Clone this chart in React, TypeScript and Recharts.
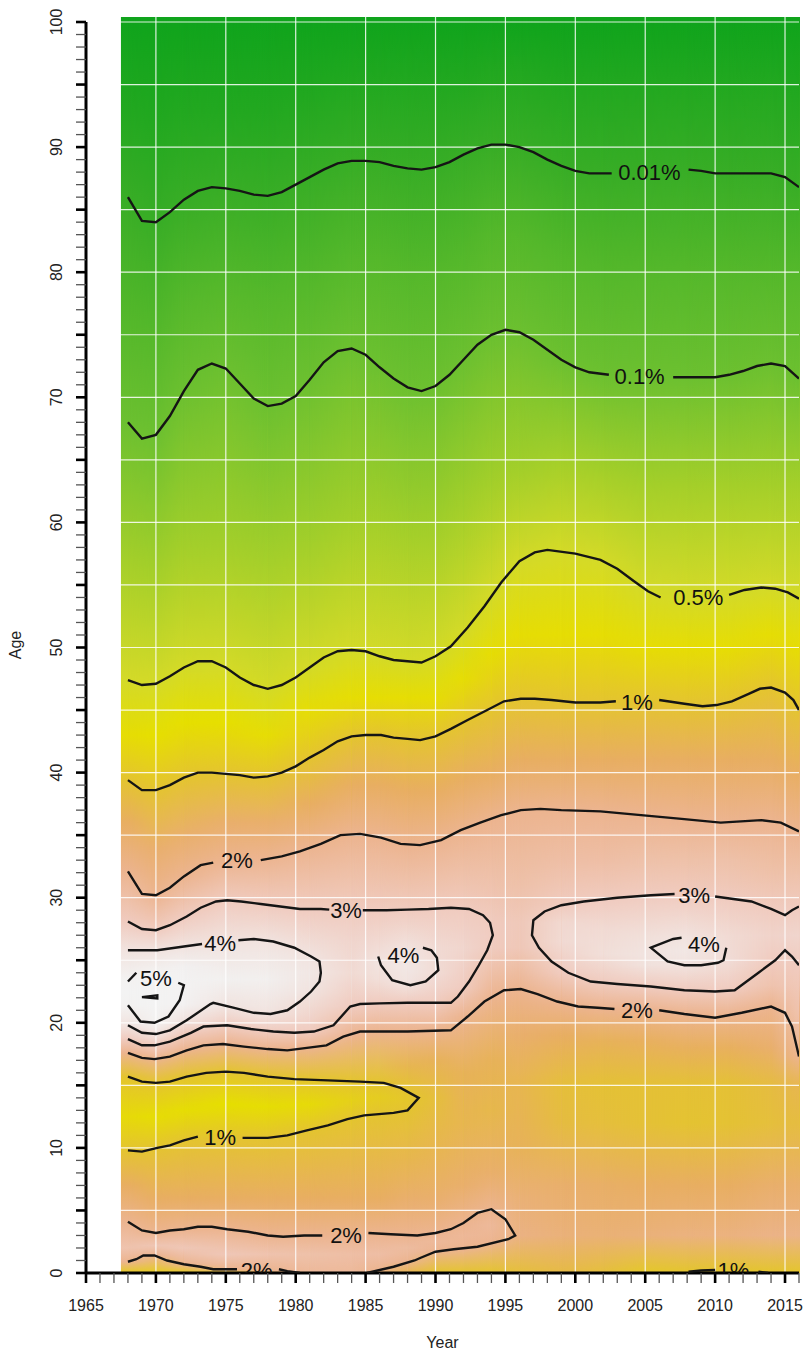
import React from "react";
import {
  ScatterChart,
  Scatter,
  XAxis,
  YAxis,
  ReferenceArea,
  ReferenceLine,
} from "recharts";

const FONT = '"Liberation Sans", Arial, Helvetica, sans-serif';
const AGE_TOP = 100.4;

// axis ticks
const xTicks = Array.from({ length: 52 }, (_, i) => 1965 + i);
const yTicks = Array.from({ length: 101 }, (_, i) => i);
const gridYears = [1970, 1975, 1980, 1985, 1990, 1995, 2000, 2005, 2010, 2015];
const gridAges = [5, 10, 15, 20, 25, 30, 35, 40, 45, 50, 55, 60, 65, 70, 75, 80, 85, 90, 95, 100];

// rate (%) -> colour, terrain-like palette
const colourStops: [number, string][] = [
  [0.0007, "#10a41c"],
  [0.003, "#22a820"],
  [0.01, "#38ad26"],
  [0.035, "#52b72a"],
  [0.1, "#6cc030"],
  [0.25, "#a4cf2a"],
  [0.5, "#d4da28"],
  [0.7, "#e6df00"],
  [1.0, "#e4c430"],
  [1.5, "#e8ae62"],
  [2.0, "#ecb48f"],
  [3.0, "#f0cbbf"],
  [4.0, "#f1e3df"],
  [4.6, "#f2efee"],
  [5.2, "#f3f3f3"],
];

// vertical profiles of the rate surface: [age, rate %], one per sampled year
const profileYears = [1968, 1970, 1972, 1975, 1978, 1981, 1984, 1986, 1988, 1990, 1992, 1994, 1996, 1999, 2002, 2005, 2008, 2011, 2014, 2016];
const profiles: [number, number][][] = [
  [[0,0.9],[0.9,2],[2,2.6],[4.1,2],[7,1.5],[9.8,1],[12.5,0.75],[15.7,1],[17.6,2],[18.7,3],[19.8,4],[21.4,5],[22.5,5.6],[23.5,5],[25.8,4],[28.1,3],[32.1,2],[36,1.5],[39.4,1],[43,0.72],[47.4,0.5],[57,0.25],[68,0.1],[77,0.035],[86,0.01],[93,0.003],[100,0.0007]],
  [[0,0.9],[1.4,2],[2.2,2.7],[3.2,2],[6,1.5],[10,1],[12.5,0.72],[15.2,1],[17.1,2],[18.2,3],[19.1,4],[20,5],[22,5.8],[24,5],[25.8,4],[27.4,3],[30.2,2],[34,1.6],[38.6,1],[43,0.7],[47.1,0.5],[56,0.25],[67,0.1],[75,0.04],[84,0.01],[92,0.003],[100,0.0007]],
  [[0,0.9],[0.7,2],[2,2.8],[3.5,2],[6,1.5],[10.6,1],[13,0.72],[15.7,1],[17.8,2],[19.2,3],[20.2,4],[21.5,4.9],[23,5.05],[24.5,4.8],[26.1,4],[28.5,3],[31.7,2],[35,1.6],[39.6,1],[44,0.7],[48.4,0.5],[58,0.25],[70.5,0.1],[78,0.04],[85.8,0.01],[93,0.003],[100,0.0007]],
  [[0,0.95],[0.3,2],[1.5,2.8],[3.5,2],[6,1.5],[10.8,1],[13.5,0.7],[16.1,1],[18.3,2],[19.8,3],[21.3,4],[23.5,4.7],[26.4,4],[29.8,3],[33,2],[36,1.6],[39.9,1],[44,0.7],[48.4,0.5],[58,0.25],[72.3,0.1],[79,0.04],[86.7,0.01],[93,0.003],[100,0.0007]],
  [[0,1.3],[0.2,2],[1.5,2.6],[3,2],[6,1.5],[10.8,1],[13.3,0.72],[15.7,1],[17.9,2],[19.3,3],[20.7,4],[23.5,4.6],[26.5,4],[29.4,3],[33.2,2],[36,1.6],[39.7,1],[43,0.72],[46.7,0.5],[57,0.25],[69.3,0.1],[78,0.04],[86.1,0.01],[93,0.003],[100,0.0007]],
  [[0,2.2],[1.5,2.5],[3,2],[6,1.5],[11.4,1],[13.5,0.75],[15.5,1],[18,2],[19.3,3],[22.5,4],[24,4.2],[25.3,4],[29.1,3],[34.1,2],[37.5,1.5],[41.2,1],[45,0.72],[48.4,0.5],[58,0.25],[71.4,0.1],[79,0.04],[87.6,0.01],[94,0.003],[100,0.0007]],
  [[0,2.2],[1.5,2.4],[3,2],[6,1.5],[12.3,1],[13.8,0.85],[15.3,1],[18.9,2],[21.3,3],[24,3.6],[26.5,3.4],[29,3],[35.1,2],[39,1.5],[42.9,1],[46,0.72],[49.8,0.5],[60,0.25],[73.9,0.1],[81,0.04],[88.9,0.01],[95,0.003],[100,0.0007]],
  [[0,1.6],[0.25,2],[1.5,2.4],[3.1,2],[6,1.5],[12.8,1],[14,0.9],[15.2,1],[19.3,2],[21.6,3],[23.5,3.8],[24.8,4.05],[26,3.7],[29,3],[34.8,2],[39,1.5],[43,1],[46,0.72],[49.3,0.5],[60,0.25],[72.4,0.1],[81,0.04],[88.8,0.01],[95,0.003],[100,0.0007]],
  [[0,1.3],[0.9,2],[2,2.3],[3,2],[6,1.6],[9,1.3],[13.2,1],[13.8,0.97],[14.5,1],[16.5,1.3],[19.3,2],[21.6,3],[23.1,4],[24.5,4.2],[25.9,4],[29,3],[34.2,2],[38.5,1.5],[42.7,1],[46,0.72],[48.9,0.5],[59,0.25],[70.8,0.1],[80,0.04],[88.3,0.01],[95,0.003],[100,0.0007]],
  [[0,1],[1.7,2],[2.5,2.2],[3.2,2],[6,1.6],[10,1.3],[14,1.1],[17,1.4],[19.4,2],[21.6,3],[24,3.7],[26,3.6],[29.1,3],[34.5,2],[38.5,1.5],[42.9,1],[46,0.72],[49.3,0.5],[59,0.25],[70.9,0.1],[80,0.04],[88.4,0.01],[95,0.003],[100,0.0007]],
  [[0,1],[1.9,2],[3,2.15],[4,2],[7,1.6],[12,1.3],[16,1.4],[20.5,2],[22.8,3],[26,3.4],[29.1,3],[35.3,2],[39.5,1.5],[44,1],[47.5,0.72],[51.3,0.5],[61,0.25],[73,0.1],[81,0.04],[89.4,0.01],[95,0.003],[100,0.0007]],
  [[0,1],[2.4,2],[3.8,2.2],[5.1,2],[8,1.6],[13,1.25],[17,1.4],[22,2],[24.5,2.6],[26,3],[27,3.05],[28,3],[30,2.7],[36.2,2],[40,1.5],[45,1],[49.5,0.72],[54.1,0.5],[63,0.25],[75,0.1],[83,0.04],[90.2,0.01],[96,0.003],[100,0.0007]],
  [[0,1.1],[3,1.85],[6,1.7],[10,1.4],[15,1.3],[19,1.6],[22.7,2],[26,2.8],[28,2.85],[31,2.5],[36.9,2],[41,1.5],[45.9,1],[51,0.72],[56.9,0.5],[64,0.25],[75.2,0.1],[83,0.04],[90,0.01],[96,0.003],[100,0.0007]],
  [[0,1.2],[3,1.75],[7,1.6],[12,1.15],[15,1.1],[19,1.5],[21.6,2],[24,3],[26.5,3.6],[28,3.5],[29.4,3],[33,2.4],[37.1,2],[41,1.5],[45.7,1],[51,0.72],[57.7,0.5],[65,0.25],[73,0.1],[81,0.04],[88.5,0.01],[95,0.003],[100,0.0007]],
  [[0,1.1],[3,1.7],[7,1.55],[12,1.1],[15,1.05],[18.5,1.4],[21.1,2],[23.2,3],[25.5,3.8],[27.5,3.6],[29.9,3],[33,2.4],[36.9,2],[41,1.5],[45.6,1],[51,0.72],[56.9,0.5],[64,0.25],[71.8,0.1],[80,0.04],[87.9,0.01],[95,0.003],[100,0.0007]],
  [[0,0.95],[3,1.75],[7,1.5],[12,1.05],[15,1.05],[18.5,1.45],[21,2],[22.9,3],[24.6,3.9],[25.5,4],[27,3.8],[30.2,3],[33,2.5],[36.6,2],[41,1.5],[45.7,1],[50,0.72],[54.6,0.5],[63,0.25],[71.7,0.1],[80,0.04],[88,0.01],[95,0.003],[100,0.0007]],
  [[0,0.95],[0.1,1],[3,1.8],[7,1.5],[12,1.02],[15,1.05],[18,1.45],[20.7,2],[22.6,3],[24.7,4],[25.8,4.2],[26.8,4],[30.2,3],[33,2.5],[36.3,2],[41,1.5],[45.5,1],[50,0.72],[54,0.5],[63,0.25],[71.6,0.1],[80,0.04],[88.2,0.01],[95,0.003],[100,0.0007]],
  [[0,0.95],[0.2,1],[3,1.8],[7,1.5],[12,1.03],[15,1.05],[18,1.45],[20.6,2],[22.6,3],[25,3.7],[27,3.6],[29.9,3],[33,2.5],[36.1,2],[41,1.5],[45.7,1],[50,0.72],[54.2,0.5],[63,0.25],[71.8,0.1],[80,0.04],[87.9,0.01],[95,0.003],[100,0.0007]],
  [[0,0.95],[0.1,1],[3,1.9],[7,1.6],[12,1.1],[15,1.15],[18,1.6],[21.3,2],[23,2.6],[25,3],[27,3.3],[29.1,3],[32,2.5],[36.2,2],[41,1.5],[46.8,1],[51,0.72],[54.7,0.5],[63,0.25],[72.7,0.1],[80,0.04],[87.9,0.01],[95,0.003],[100,0.0007]],
  [[0,0.95],[0.1,1],[3,1.9],[7,1.6],[12,1.15],[15,1.3],[17.3,2],[21,2.6],[24.6,3],[27,3.4],[29.3,3],[32,2.5],[35.3,2],[40,1.5],[45,1],[50,0.72],[53.9,0.5],[63,0.25],[71.5,0.1],[80,0.04],[86.9,0.01],[94,0.003],[100,0.0007]],
];

// contour lines, [year, age], split where a label sits
const c001a: [number, number][] = [[1968,86],[1969,84.1],[1970,84],[1971,84.8],[1972,85.8],[1973,86.5],[1974,86.8],[1975,86.7],[1976,86.5],[1977,86.2],[1978,86.1],[1979,86.4],[1980,87],[1981,87.6],[1982,88.2],[1983,88.7],[1984,88.9],[1985,88.9],[1986,88.8],[1987,88.5],[1988,88.3],[1989,88.2],[1990,88.4],[1991,88.8],[1992,89.4],[1993,89.9],[1994,90.2],[1995,90.2],[1996,90],[1997,89.6],[1998,89],[1999,88.5],[2000,88.1],[2001,87.9],[2002.6,87.9]];
const c001b: [number, number][] = [[2008.1,88.2],[2009,88.1],[2010,87.9],[2012,87.9],[2014,87.9],[2015,87.6],[2016,86.8]];
const c01a: [number, number][] = [[1968,68],[1969,66.7],[1970,67],[1971,68.5],[1972,70.5],[1973,72.2],[1974,72.7],[1975,72.3],[1976,71.1],[1977,69.9],[1978,69.3],[1979,69.5],[1980,70.1],[1981,71.4],[1982,72.8],[1983,73.7],[1984,73.9],[1985,73.4],[1986,72.4],[1987,71.5],[1988,70.8],[1989,70.5],[1990,70.9],[1991,71.8],[1992,73],[1993,74.2],[1994,75],[1995,75.4],[1996,75.2],[1997,74.6],[1998,73.8],[1999,73],[2000,72.4],[2001,72],[2002.4,71.8]];
const c01b: [number, number][] = [[2007,71.6],[2008,71.6],[2010,71.6],[2011,71.8],[2012,72.1],[2013,72.5],[2014,72.7],[2015,72.5],[2016,71.5]];
const c05a: [number, number][] = [[1968,47.4],[1969,47],[1970,47.1],[1971,47.7],[1972,48.4],[1973,48.9],[1974,48.9],[1975,48.4],[1976,47.6],[1977,47],[1978,46.7],[1979,47],[1980,47.6],[1981,48.4],[1982,49.2],[1983,49.7],[1984,49.8],[1985,49.7],[1986,49.3],[1987,49],[1988,48.9],[1989,48.8],[1990,49.3],[1991.1,50.1],[1992.3,51.6],[1993.5,53.3],[1994.7,55.2],[1996,56.9],[1997.1,57.6],[1998,57.8],[2000,57.5],[2001.8,57],[2003,56.3],[2004.2,55.3],[2005.2,54.5],[2006.1,54]];
const c05b: [number, number][] = [[2011,54.2],[2012.1,54.6],[2013.3,54.8],[2014.3,54.7],[2015.2,54.4],[2016,53.9]];
const c1a: [number, number][] = [[1968,39.4],[1969,38.6],[1970,38.6],[1971,39],[1972,39.6],[1973,40],[1974,40],[1975,39.9],[1976,39.8],[1977,39.6],[1978,39.7],[1979,40],[1980,40.5],[1981,41.2],[1982,41.8],[1983,42.5],[1984,42.9],[1985,43],[1986.1,43],[1987,42.8],[1988,42.7],[1988.9,42.6],[1990,42.9],[1991.1,43.5],[1992.3,44.2],[1993.7,45],[1994.9,45.7],[1996.1,45.9],[1997.1,45.9],[1998.3,45.8],[2000,45.6],[2001.8,45.6],[2002.9,45.7]];
const c1b: [number, number][] = [[2006,45.8],[2007.8,45.5],[2009.1,45.3],[2010.1,45.4],[2011.2,45.7],[2012.4,46.3],[2013.2,46.7],[2014,46.8],[2015,46.4],[2015.6,45.8],[2016,45]];
const c2a: [number, number][] = [[1968,32.1],[1969,30.3],[1970,30.2],[1971,30.8],[1972,31.7],[1973.2,32.6],[1974.1,32.8]];
const c2b: [number, number][] = [[1977.5,33],[1979,33.3],[1980.3,33.7],[1981.8,34.3],[1983.2,35],[1984.6,35.1],[1986.1,34.8],[1987.5,34.3],[1988.9,34.2],[1990.4,34.6],[1991.8,35.4],[1993.2,36],[1994.7,36.6],[1996.1,37],[1997.5,37.1],[1999,37],[2001.8,36.9],[2004.7,36.6],[2007.6,36.3],[2010.4,36],[2013.3,36.2],[2014.7,36],[2016,35.3]];
const c3La: [number, number][] = [[1968,28.1],[1969,27.5],[1970,27.4],[1971,27.8],[1972.2,28.5],[1973.2,29.2],[1974.3,29.7],[1975.1,29.8],[1976.1,29.7],[1977.5,29.5],[1978.9,29.3],[1980.3,29.1],[1981.8,29.1],[1982.4,29.05]];
const c3Lb: [number, number][] = [[1984.8,29],[1986.5,29],[1988,29.05],[1989.5,29.1],[1991.1,29.2],[1992.4,29.1],[1993.4,28.6],[1993.9,28],[1994.1,27],[1993.7,25.8],[1993.1,24.6],[1992.4,23.3],[1991.6,22.1],[1991.1,21.6],[1990,21.6],[1988,21.6],[1986,21.55],[1984.6,21.5],[1983.9,21.3],[1982.7,19.8],[1981.3,19.3],[1979.9,19.2],[1978.4,19.3],[1976.8,19.5],[1975.1,19.8],[1973.4,19.7],[1972.5,19.2],[1971,18.5],[1969.9,18.2],[1969,18.2],[1968,18.7]];
const c4La: [number, number][] = [[1968,25.8],[1970.1,25.8],[1972,26.1],[1973.3,26.3]];
const c4Lb: [number, number][] = [[1975.9,26.6],[1977,26.7],[1978.4,26.5],[1979.9,26],[1981.1,25.3],[1981.7,24.9],[1981.8,24],[1981.7,23.3],[1981.1,22.5],[1980.3,21.7],[1979.4,21],[1978.2,20.7],[1977,20.8],[1975.6,21.2],[1974.1,21.6],[1973.9,21.5],[1972.2,20.2],[1971,19.4],[1970,19.1],[1969,19.2],[1968,19.8]];
const c5a: [number, number][] = [[1968,23.3],[1968.6,24]];
const c5b: [number, number][] = [[1971.6,23.2],[1972,23],[1971.7,21.8],[1970.9,20.5],[1969.9,20],[1968.9,20.1],[1968,21.4]];
const c5c: [number, number][] = [[1969,22.05],[1970.1,22.2],[1970.1,21.95],[1969,22.05]];
const c4M: [number, number][] = [[1985.9,25.3],[1986.1,24.6],[1986.9,23.4],[1988.2,23],[1989.3,23.3],[1990.2,24.2],[1990.1,25.2],[1989.7,25.8],[1989.1,26]];
const c3Ra: [number, number][] = [[2016,29.3],[2015.5,29],[2015,28.6],[2014,29.1],[2012.6,29.7],[2010,30.1]];
const c3Rb: [number, number][] = [[2007.1,30.3],[2005.4,30.2],[2003,30],[2000.6,29.7],[1999,29.4],[1997.8,28.9],[1997,28.2],[1996.9,27],[1997.4,26],[1998.3,24.9],[1999.5,24],[2001.1,23.3],[2003,23.1],[2005.4,22.9],[2007.8,22.6],[2010,22.5],[2011.4,22.6],[2013.1,24],[2014.3,25],[2015,25.8],[2015.5,25.3],[2016,24.6]];
const c4R: [number, number][] = [[2007.6,26.8],[2007,26.7],[2005.4,26],[2006.6,24.9],[2007.8,24.6],[2009,24.6],[2010.2,24.8],[2010.6,25],[2010.8,26]];
const c2La: [number, number][] = [[1968,17.6],[1969,17.2],[1969.9,17.1],[1971,17.3],[1972.2,17.8],[1973.4,18.2],[1974.8,18.3],[1976.3,18.1],[1978,17.9],[1979.4,17.8],[1980.8,18],[1982.2,18.2],[1983.4,18.9],[1984.6,19.3],[1986,19.3],[1988,19.3],[1991.1,19.4],[1992.3,20.5],[1993.5,21.7],[1994.9,22.6],[1996.1,22.7],[1997.3,22.3],[1998.7,21.7],[2000.2,21.3],[2001.6,21.2],[2002.8,21.1]];
const c2Lb: [number, number][] = [[2006,21],[2007.8,20.7],[2010,20.4],[2011.9,20.8],[2014,21.3],[2015,20.8],[2015.5,19.7],[2016,17.3]];
const c1La: [number, number][] = [[1968,15.7],[1969,15.3],[1970,15.2],[1971,15.3],[1972.2,15.7],[1973.6,16],[1975,16.1],[1976.3,16],[1978,15.7],[1979.9,15.5],[1982.3,15.4],[1984.6,15.3],[1986.3,15.2],[1987.5,14.8],[1988.8,14],[1988,13],[1987,12.8],[1984.9,12.6],[1983.7,12.3],[1982.3,11.8],[1980.8,11.4],[1979.4,11],[1978,10.8],[1976.2,10.8]];
const c1Lb: [number, number][] = [[1973,10.9],[1972,10.6],[1971,10.2],[1970.1,10],[1969,9.7],[1968,9.8]];
const c2Ba: [number, number][] = [[1968,4.1],[1969,3.4],[1970,3.2],[1971,3.4],[1972,3.5],[1973,3.7],[1974,3.7],[1975.1,3.5],[1976.6,3.3],[1978,3],[1979.1,2.9],[1980.6,3],[1981.9,3]];
const c2Bb: [number, number][] = [[1985.2,3.2],[1986.8,3.1],[1988.7,3],[1990,3.2],[1991.1,3.5],[1992,4],[1993,4.8],[1994,5.1],[1995,4.3],[1995.7,3],[1995.2,2.7],[1993,2.1],[1991.3,1.9],[1990,1.7],[1988.9,1.2],[1988.5,1],[1987,0.5],[1985.1,0]];
const c2Za: [number, number][] = [[1968,0.9],[1968.6,1.1],[1969.1,1.4],[1969.9,1.4],[1970.8,1],[1972,0.7],[1973.2,0.5],[1974.1,0.3],[1975.8,0.3]];
const c2Zb: [number, number][] = [[1978.8,0.3],[1979.4,0.15],[1980.3,0]];
const c1Za: [number, number][] = [[2008.1,0.1],[2009,0.2],[2010,0.24]];
const c1Zb: [number, number][] = [[2013.1,0.1],[2013.8,0]];

const contours = [c001a, c001b, c01a, c01b, c05a, c05b, c1a, c1b, c2a, c2b, c3La, c3Lb, c4La, c4Lb, c5a, c5b, c5c, c4M, c3Ra, c3Rb, c4R, c2La, c2Lb, c1La, c1Lb, c2Ba, c2Bb, c2Za, c2Zb, c1Za, c1Zb];

const contourLabels = [
  { x: 2005.3, y: 88.0, text: "0.01%" },
  { x: 2004.6, y: 71.7, text: "0.1%" },
  { x: 2008.8, y: 54.0, text: "0.5%" },
  { x: 2004.4, y: 45.6, text: "1%" },
  { x: 1975.8, y: 33.0, text: "2%" },
  { x: 1983.6, y: 29.0, text: "3%" },
  { x: 1974.6, y: 26.4, text: "4%" },
  { x: 1970.0, y: 23.6, text: "5%" },
  { x: 1987.7, y: 25.4, text: "4%" },
  { x: 2008.5, y: 30.2, text: "3%" },
  { x: 2009.2, y: 26.3, text: "4%" },
  { x: 2004.4, y: 21.0, text: "2%" },
  { x: 1974.6, y: 10.9, text: "1%" },
  { x: 1983.6, y: 3.0, text: "2%" },
  { x: 1977.2, y: 0.25, text: "2%" },
  { x: 2011.3, y: 0.25, text: "1%" },
];

const hexRgb = (h: string) => [1, 3, 5].map((i) => parseInt(h.slice(i, i + 2), 16));

function rateColour(v: number) {
  if (v <= colourStops[0][0]) return colourStops[0][1];
  for (let i = 0; i < colourStops.length - 1; i++) {
    const [v0, c0] = colourStops[i];
    const [v1, c1] = colourStops[i + 1];
    if (v <= v1) {
      const f = (Math.log10(v) - Math.log10(v0)) / (Math.log10(v1) - Math.log10(v0));
      const a = hexRgb(c0);
      const b = hexRgb(c1);
      const m = a.map((x, k) => Math.round(x + (b[k] - x) * f));
      return `rgb(${m[0]},${m[1]},${m[2]})`;
    }
  }
  return colourStops[colourStops.length - 1][1];
}

// heat map tiles: each span between sampled years, second tile fades in the next profile
const tiles: { x1: number; x2: number; prof: number; fade: boolean }[] = [
  { x1: 1967.5, x2: profileYears[0], prof: 0, fade: false },
];
for (let i = 0; i < profileYears.length - 1; i++) {
  tiles.push({ x1: profileYears[i], x2: profileYears[i + 1], prof: i, fade: false });
  tiles.push({ x1: profileYears[i], x2: profileYears[i + 1], prof: i + 1, fade: true });
}

const NoShape = () => <g />;

const XTick = (props: any) => {
  const { x, y, payload } = props;
  const v = payload.value;
  const major = v % 5 === 0;
  return (
    <g>
      <line x1={x} x2={x} y1={y} y2={y + 10} stroke={major ? "#000" : "#555"} strokeWidth={major ? 2.6 : 1.3} />
      {major && (
        <text x={x} y={y + 38} textAnchor="middle" fontSize={16} fontFamily={FONT} fill="#222">
          {v}
        </text>
      )}
    </g>
  );
};

const YTick = (props: any) => {
  const { x, y, payload } = props;
  const v = payload.value;
  const major = v % 5 === 0;
  const lx = x - 24;
  return (
    <g>
      <line x1={x - 10} x2={x} y1={y} y2={y} stroke={major ? "#000" : "#555"} strokeWidth={major ? 2.6 : 1.3} />
      {v % 10 === 0 && (
        <text x={lx} y={y} transform={`rotate(-90 ${lx} ${y})`} textAnchor="middle" fontSize={16} fontFamily={FONT} fill="#222">
          {v}
        </text>
      )}
    </g>
  );
};

const ContourLabel = (props: any) => {
  const { cx, cy, payload } = props;
  return (
    <text x={cx} y={cy} dy="0.36em" textAnchor="middle" fontSize={22} fontFamily={FONT} fill="#111" clipPath="url(#plotClip)">
      {payload.text}
    </text>
  );
};

const App = () => (
  <div style={{ position: "absolute", left: 0, top: 0, width: 805, height: 1354, background: "#fff" }}>
    <ScatterChart width={805} height={1354} margin={{ top: 17, right: 6, bottom: 0, left: 0 }}>
      <defs>
        {profiles.map((p, i) => (
          <linearGradient key={i} id={`prof${i}`} x1="0" y1="0" x2="0" y2="1">
            {[...p].reverse().map(([age, v], j) => (
              <stop key={j} offset={(AGE_TOP - age) / AGE_TOP} stopColor={rateColour(v)} />
            ))}
          </linearGradient>
        ))}
        <linearGradient id="ramp" x1="0" y1="0" x2="1" y2="0">
          <stop offset="0" stopColor="#fff" stopOpacity={0} />
          <stop offset="1" stopColor="#fff" stopOpacity={1} />
        </linearGradient>
        <mask id="fadeIn" maskContentUnits="objectBoundingBox">
          <rect x="0" y="0" width="1" height="1" fill="url(#ramp)" />
        </mask>
        <clipPath id="plotClip">
          <rect x={86} y={10} width={713} height={1263} />
        </clipPath>
      </defs>
      <XAxis
        type="number"
        dataKey="x"
        domain={[1965, 2016]}
        ticks={xTicks}
        interval={0}
        tickSize={0}
        tickMargin={0}
        tickLine={false}
        axisLine={{ stroke: "#000", strokeWidth: 3 }}
        tick={(p: any) => <XTick {...p} />}
        height={81}
        allowDataOverflow
        label={{
          content: (p: any) => {
            const vb = p.viewBox || { x: 86, y: 1273, width: 713 };
            return (
              <text x={vb.x + vb.width / 2} y={vb.y + 75} textAnchor="middle" fontSize={16} fontFamily={FONT} fill="#222">
                Year
              </text>
            );
          },
        }}
      />
      <YAxis
        type="number"
        dataKey="y"
        domain={[0, AGE_TOP]}
        ticks={yTicks}
        interval={0}
        tickSize={0}
        tickMargin={0}
        tickLine={false}
        axisLine={false}
        tick={(p: any) => <YTick {...p} />}
        width={86}
        allowDataOverflow
        label={{
          content: (p: any) => {
            const vb = p.viewBox || { x: 0, y: 17, height: 1256 };
            const cy = vb.y + vb.height / 2;
            return (
              <text x={21} y={cy} transform={`rotate(-90 21 ${cy})`} textAnchor="middle" fontSize={16} fontFamily={FONT} fill="#222">
                Age
              </text>
            );
          },
        }}
      />
      {tiles.map((t, i) => (
        <ReferenceArea
          key={`tile${i}`}
          x1={t.x1}
          x2={t.x2}
          y1={0}
          y2={AGE_TOP}
          shape={(p: any) => (
            <rect
              x={p.x}
              y={p.y}
              width={p.width + (t.fade ? 0 : 1)}
              height={p.height}
              fill={`url(#prof${t.prof})`}
              mask={t.fade ? "url(#fadeIn)" : undefined}
            />
          )}
        />
      ))}
      {gridYears.map((yr) => (
        <ReferenceLine key={`gx${yr}`} x={yr} stroke="#fff" strokeOpacity={0.85} strokeWidth={1.2} />
      ))}
      {gridAges.map((a) => (
        <ReferenceLine key={`gy${a}`} y={a} stroke="#fff" strokeOpacity={0.85} strokeWidth={1.2} />
      ))}
      <ReferenceLine
        segment={[
          { x: 1965, y: 0 },
          { x: 1965, y: 100 },
        ]}
        stroke="#000"
        strokeWidth={3}
      />
      {contours.map((seg, i) => (
        <Scatter
          key={`c${i}`}
          data={seg.map(([x, y]) => ({ x, y }))}
          line={{ stroke: "#151515", strokeWidth: 2.4, fill: "none" }}
          shape={NoShape}
          isAnimationActive={false}
        />
      ))}
      <Scatter data={contourLabels} shape={(p: any) => <ContourLabel {...p} />} isAnimationActive={false} />
    </ScatterChart>
  </div>
);

export default App;
